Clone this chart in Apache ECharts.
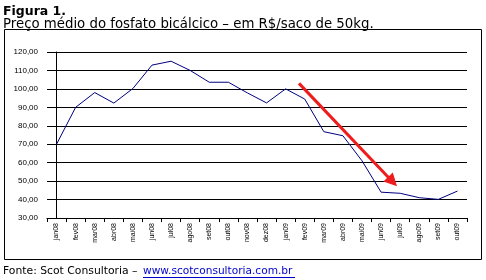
<!DOCTYPE html>
<html><head><meta charset="utf-8">
<script src="https://cdn.jsdelivr.net/npm/echarts@6/dist/echarts.min.js"></script>
<style>html,body{margin:0;padding:0;background:#fff}#c{width:486px;height:280px}</style>
</head><body><div id="c"></div>
<script>
const categories = ["jan08","fev08","mar08","abr08","mai08","jun08","jul08","ago08","set08","out08","nov08","dez08","jan09","fev09","mar09","abr09","mai09","jun09","jul09","ago09","set09","out09"];
const prices = [70.0, 90.0, 98.0, 92.3, 100.2, 112.9, 115.0, 110.0, 103.6, 103.6, 97.8, 92.4, 100.0, 94.5, 76.8, 74.6, 61.0, 44.0, 43.4, 41.0, 40.1, 44.6];
const yTicks = [30,40,50,60,70,80,90,100,110,120];
const arrowStart = [12.7, 103.0];
const arrowEnd = [17.6, 49.7];

const chart = echarts.init(document.getElementById('c'), null, {renderer:'canvas'});
const fmt = v => v.toFixed(2).replace('.', ',');
chart.setOption({
  animation:false,
  backgroundColor:'#fff',
  graphic:[
    {type:'rect', shape:{x:4.5,y:29.5,width:477,height:230}, style:{fill:'none',stroke:'#000',lineWidth:1}},
    {type:'text', left:3, top:5, style:{text:'Figura 1.', font:'bold 12.5px "DejaVu Sans"', fill:'#000'}},
    {type:'text', left:3, top:18, style:{text:'Preço médio do fosfato bicálcico – em R$/saco de 50kg.', font:'13.3px "DejaVu Sans"', fill:'#000'}},
    {type:'text', left:3, top:266, style:{text:'Fonte: Scot Consultoria – ', font:'10.8px "DejaVu Sans"', fill:'#000'}},
    {type:'text', left:143, top:266, style:{text:'www.scotconsultoria.com.br', font:'10.6px "DejaVu Sans"', fill:'#0000cc'}},
    {type:'line', shape:{x1:143,y1:277.5,x2:295,y2:277.5}, style:{stroke:'#0000cc',lineWidth:1}}
  ],
  grid:{left:47,right:19,top:52,bottom:62},
  xAxis:[{
    type:'category', data:categories, boundaryGap:true,
    axisLine:{show:true,lineStyle:{color:'#000',width:1}},
    axisTick:{show:true,length:4,lineStyle:{color:'#000'}},
    axisLabel:{rotate:90, fontSize:7, fontFamily:'"Liberation Sans", Arial', color:'#000', margin:5, interval:0},
    splitLine:{show:false}
  },{
    type:'value', min:-0.5, max:21.5, show:false
  }],
  yAxis:{
    type:'value', min:30, max:120, interval:10,
    axisLine:{show:true,lineStyle:{color:'#000',width:1}},
    axisTick:{show:true,length:4,lineStyle:{color:'#000'}},
    axisLabel:{formatter:fmt, fontSize:8, fontFamily:'"Liberation Sans", Arial', color:'#000', margin:9},
    splitLine:{show:true,lineStyle:{color:'#000',width:1}}
  },
  series:[{
    type:'line', data:prices, symbol:'none',
    lineStyle:{color:'#000080',width:1}
  },{
    type:'line', xAxisIndex:1, data:[], symbol:'none',
    markLine:{
      silent:true, symbol:['none','triangle'], symbolSize:[13,13],
      label:{show:false},
      lineStyle:{color:'#ee1c1c',width:3,type:'solid'},
      data:[[{coord:arrowStart},{coord:arrowEnd}]]
    }
  }]
});
</script></body></html>
